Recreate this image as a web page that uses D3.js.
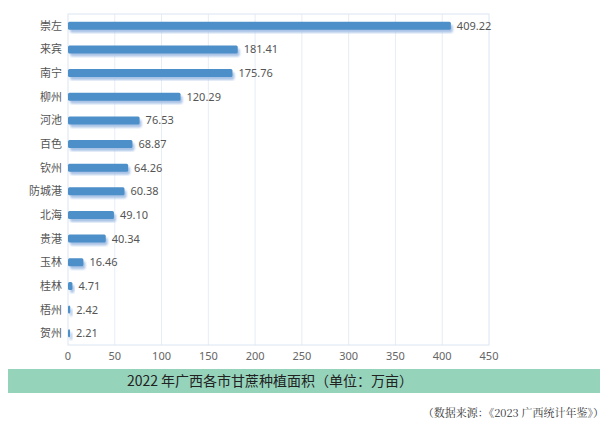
<!DOCTYPE html>
<html><head><meta charset="utf-8">
<script src="https://cdn.jsdelivr.net/npm/d3@7"></script>
<style>body{margin:0;background:#fff}</style></head>
<body><svg id="c" width="610" height="429"></svg>
<script>
const cities=["崇左","来宾","南宁","柳州","河池","百色","钦州","防城港","北海","贵港","玉林","桂林","梧州","贺州"];
const values=[409.22,181.41,175.76,120.29,76.53,68.87,64.26,60.38,49.10,40.34,16.46,4.71,2.42,2.21];
const ticks=[0,50,100,150,200,250,300,350,400,450];
const title="2022 年广西各市甘蔗种植面积（单位：万亩）";
const source="（数据来源：《2023 广西统计年鉴》）";

const svg=d3.select("#c");
const L=68,R=489,T=14,B=345;
const x=d3.scaleLinear().domain([0,450]).range([L,R]);
const y=d3.scaleBand().domain(cities).range([T,B]);
const defs=svg.append("defs");
defs.append("filter").attr("id","bl").append("feGaussianBlur").attr("stdDeviation",1.2);
svg.append("g").selectAll("line").data(ticks.slice(1,-1)).join("line")
 .attr("x1",d=>x(d)).attr("x2",d=>x(d)).attr("y1",T).attr("y2",B)
 .attr("stroke","#e6edf5").attr("stroke-width",1);
svg.append("rect").attr("x",L).attr("y",T).attr("width",R-L).attr("height",B-T)
 .attr("fill","none").attr("stroke","#dbe6f2").attr("stroke-width",1);
const bh=8;
const g=svg.append("g").selectAll("g").data(cities).join("g");
g.append("rect").attr("x",L+2).attr("y",d=>y(d)+y.bandwidth()/2-bh/2+3)
 .attr("width",(d,i)=>x(values[i])-L).attr("height",bh).attr("rx",2)
 .attr("fill","#a9c3e6").attr("filter","url(#bl)");
g.append("rect").attr("x",L).attr("y",d=>y(d)+y.bandwidth()/2-bh/2)
 .attr("width",(d,i)=>x(values[i])-L).attr("height",bh).attr("rx",1.5)
 .attr("fill","#4d8fc8");
g.append("text").attr("x",(d,i)=>x(values[i])+6).attr("y",d=>y(d)+y.bandwidth()/2+4)
 .attr("font-family","Noto Sans, sans-serif").attr("font-size",11).attr("fill","#555")
 .text((d,i)=>values[i].toFixed(2));
g.append("text").attr("x",L-6).attr("y",d=>y(d)+y.bandwidth()/2+4).attr("text-anchor","end")
 .attr("font-family","Noto Sans CJK SC, sans-serif").attr("font-size",11).attr("fill","#555").text(d=>d);
svg.append("g").selectAll("text").data(ticks).join("text")
 .attr("x",d=>x(d)).attr("y",360).attr("text-anchor","middle")
 .attr("font-family","Noto Sans, sans-serif").attr("font-size",11).attr("fill","#666").text(d=>d);
svg.append("rect").attr("x",8).attr("y",369).attr("width",592).attr("height",24).attr("fill","#96d3bb");
svg.append("text").attr("x",270).attr("y",386).attr("text-anchor","middle")
 .attr("font-family","Noto Sans CJK SC, sans-serif").attr("font-size",14).attr("fill","#222").text(title);
svg.append("text").attr("x",604).attr("y",417).attr("text-anchor","end")
 .attr("font-family","Noto Serif CJK SC, Noto Sans CJK SC, serif").attr("font-size",11).attr("fill","#333").text(source);
</script></body></html>
